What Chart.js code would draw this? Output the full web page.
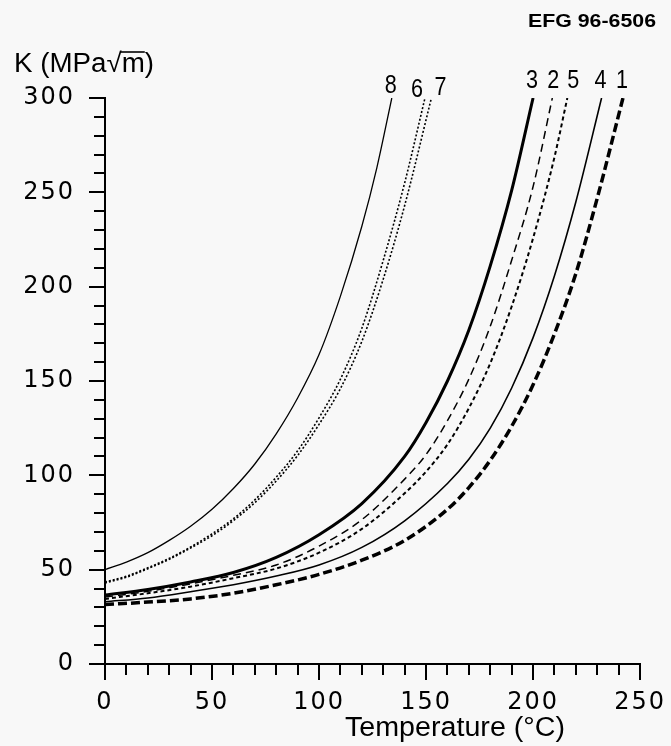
<!DOCTYPE html>
<html>
<head>
<meta charset="utf-8">
<script src="https://cdn.jsdelivr.net/npm/chart.js@4.4.1/dist/chart.umd.min.js"></script>
<style>
  html, body { margin: 0; padding: 0; background: #f8f8f8; }
  canvas { display: block; }
</style>
</head>
<body>
<canvas id="chart" width="671" height="746"></canvas>
<script>
// temperature (°C) and K (MPa√m)
const temps1 = [0, 20, 40, 60, 80, 100, 120, 140, 160, 170, 180, 190, 200, 210, 220, 230, 242]
const k1     = [31.5, 32.8, 34.5, 37.5, 42, 47.5, 55, 65.5, 82, 93.5, 108, 126, 148, 175, 207, 247, 300]
const temps2 = [0, 20, 40, 60, 80, 100, 120, 140, 150, 160, 170, 180, 190, 200, 209]
const k2     = [35.5, 38.5, 42.5, 47, 52.5, 62.5, 76.5, 98, 111, 129, 151, 179, 214, 253, 300]
const temps3 = [0, 20, 40, 60, 80, 100, 120, 140, 150, 160, 170, 180, 190, 200]
const k3     = [36.5, 39.5, 43.5, 48.5, 56.5, 68.5, 85, 110, 128, 150, 177, 211, 251, 300]
const temps4 = [0, 20, 40, 60, 80, 100, 120, 140, 160, 170, 180, 190, 200, 210, 220, 232]
const k4     = [33, 35, 38.3, 42, 46.6, 52.5, 61.8, 75.9, 95.7, 108.5, 125, 146.3, 173, 205.8, 245, 300]
const temps5 = [0, 20, 40, 60, 80, 100, 120, 140, 150, 160, 170, 180, 190, 200, 210, 216]
const k5     = [34.5, 37.5, 41, 45.5, 50.6, 59, 71.6, 90.5, 102, 116.4, 135.6, 159.4, 189.5, 225.7, 268.7, 300]
const temps6 = [0, 10, 20, 30, 40, 50, 60, 70, 80, 90, 100, 110, 120, 130, 140, 149.5]
const k6     = [43.5, 46.5, 51, 56, 62, 69, 77, 87, 99, 113, 130.5, 151, 178, 214, 255, 300]
const temps7 = [0, 10, 20, 30, 40, 50, 60, 70, 80, 90, 100, 110, 120, 130, 140, 152.5]
const k7     = [43, 46, 50.5, 55.5, 61.5, 68, 76, 85.5, 97, 110.5, 127, 146, 171, 204, 243, 300]
const temps8 = [0, 10, 20, 30, 40, 50, 60, 70, 80, 90, 100, 110, 120, 127, 134]
const k8     = [50, 54, 59, 65.5, 73, 82, 93, 106, 122, 141, 164, 195, 232, 263, 300]

const xTicks = [0, 50, 100, 150, 200, 250]
const yTicks = [0, 50, 100, 150, 200, 250, 300]

const curves = [
  { name: '1', temps: temps1, k: k1, width: 3.5, dash: [9, 4] },
  { name: '2', temps: temps2, k: k2, width: 1.5, dash: [8, 5] },
  { name: '3', temps: temps3, k: k3, width: 3, dash: [] },
  { name: '4', temps: temps4, k: k4, width: 1.6, dash: [] },
  { name: '5', temps: temps5, k: k5, width: 2, dash: [4, 3] },
  { name: '6', temps: temps6, k: k6, width: 1.6, dash: [2, 2] },
  { name: '7', temps: temps7, k: k7, width: 1.6, dash: [2, 2] },
  { name: '8', temps: temps8, k: k8, width: 1.3, dash: [] },
]

// nudges for the curve numbers, in pixels from the end of each curve
const labelNudge = {
  '1': [-1, -10], '2': [1, -10], '3': [-1, -10], '4': [-1, -10],
  '5': [6, -10], '6': [-8, -1], '7': [9, -3], '8': [-1, -5],
}

const drawText = (ctx, str, x, y, font, targetWidth, align = 'left') => {
  ctx.save()
  ctx.font = font
  ctx.textBaseline = 'alphabetic'
  ctx.textAlign = 'left'
  const measured = ctx.measureText(str).width
  const sx = targetWidth ? targetWidth / measured : 1
  const w = measured * sx
  const left = align === 'center' ? x - w / 2 : align === 'right' ? x - w : x
  ctx.translate(left, y)
  ctx.scale(sx, 1)
  ctx.fillStyle = '#000'
  ctx.fillText(str, 0, 0)
  ctx.restore()
  return w
}

const paperPlugin = {
  id: 'paper',
  beforeDraw(chart) {
    const ctx = chart.ctx
    ctx.save()
    ctx.fillStyle = '#f8f8f8'
    ctx.fillRect(0, 0, chart.width, chart.height)
    ctx.restore()
    ctx.letterSpacing = '2px'
  },
}

const minorTicksPlugin = {
  id: 'minorTicks',
  afterDraw(chart) {
    const { ctx, chartArea, scales: { x, y } } = chart
    ctx.save()
    ctx.strokeStyle = '#000'
    ctx.lineWidth = 2
    ctx.beginPath()
    for (let v = 10; v < 250; v += 10) {
      if (v % 50 === 0) continue
      const px = Math.round(x.getPixelForValue(v))
      ctx.moveTo(px, chartArea.bottom)
      ctx.lineTo(px, chartArea.bottom + 11)
    }
    for (let v = 10; v < 300; v += 10) {
      if (v % 50 === 0) continue
      const py = Math.round(y.getPixelForValue(v))
      ctx.moveTo(chartArea.left - 11, py)
      ctx.lineTo(chartArea.left, py)
    }
    ctx.stroke()
    ctx.restore()
  },
}

const textPlugin = {
  id: 'texts',
  afterDraw(chart) {
    const { ctx, scales: { x, y } } = chart
    ctx.letterSpacing = '0px'

    drawText(ctx, 'EFG 96-6506', 528, 27, 'bold 19px "Liberation Sans"', 128)

    // K (MPa√m) with the bar over the m
    const font = '27px "Liberation Sans"'
    ctx.save()
    ctx.font = font
    const wHead = ctx.measureText('K (MPa').width
    const wRoot = ctx.measureText('√').width
    const wM = ctx.measureText('m').width
    const wAll = ctx.measureText('K (MPa√m)').width
    ctx.restore()
    const sx = 140 / wAll
    const left = 14
    const base = 72
    drawText(ctx, 'K (MPa√m)', left, base, font, 140)
    ctx.save()
    ctx.strokeStyle = '#000'
    ctx.lineWidth = 1.6
    ctx.beginPath()
    const barStart = left + (wHead + wRoot) * sx - 1
    ctx.moveTo(barStart, base - 20)
    ctx.lineTo(barStart + wM * sx + 1, base - 20)
    ctx.stroke()
    ctx.restore()

    drawText(ctx, 'Temperature (°C)', 345, 736, '27px "Liberation Sans"', 220)

    const top = y.getPixelForValue(300)
    curves.forEach(c => {
      const [dx, dy] = labelNudge[c.name]
      const px = x.getPixelForValue(c.temps[c.temps.length - 1]) + dx
      drawText(ctx, c.name, px, top + dy, '25px "Liberation Sans"', 12, 'center')
    })
  },
}

new Chart(document.getElementById('chart'), {
  type: 'line',
  data: {
    datasets: curves.map(c => ({
      label: c.name,
      data: c.temps.map((t, i) => ({ x: t, y: c.k[i] })),
      borderColor: '#000',
      borderWidth: c.width,
      borderDash: c.dash,
      borderCapStyle: 'butt',
      pointRadius: 0,
      fill: false,
      cubicInterpolationMode: 'monotone',
    })),
  },
  options: {
    responsive: false,
    animation: false,
    devicePixelRatio: 1,
    layout: { padding: { left: 0, top: 98, right: 30, bottom: 0 } },
    plugins: { legend: { display: false }, tooltip: { enabled: false } },
    scales: {
      x: {
        type: 'linear',
        min: 0,
        max: 250,
        afterFit(scale) { scale.height = 82 },
        afterBuildTicks(scale) { scale.ticks = xTicks.map(v => ({ value: v })) },
        border: { display: true, color: '#000', width: 2 },
        grid: { display: true, drawOnChartArea: false, drawTicks: true, tickLength: 16, color: '#000', lineWidth: 2 },
        ticks: { color: '#000', padding: 8, maxRotation: 0, font: { family: 'DejaVu Sans', size: 24 } },
      },
      y: {
        type: 'linear',
        min: 0,
        max: 300,
        afterFit(scale) { scale.width = 105 },
        afterBuildTicks(scale) { scale.ticks = yTicks.map(v => ({ value: v })) },
        border: { display: true, color: '#000', width: 2 },
        grid: { display: true, drawOnChartArea: false, drawTicks: true, tickLength: 16, color: '#000', lineWidth: 2 },
        ticks: { color: '#000', padding: 14, font: { family: 'DejaVu Sans', size: 24 } },
      },
    },
  },
  plugins: [paperPlugin, minorTicksPlugin, textPlugin],
})
</script>
</body>
</html>
